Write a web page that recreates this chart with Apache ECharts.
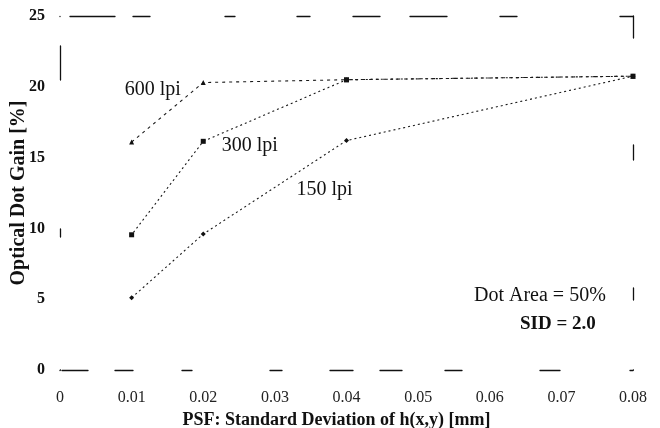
<!DOCTYPE html>
<html>
<head>
<meta charset="utf-8">
<script src="https://cdn.jsdelivr.net/npm/echarts@6/dist/echarts.min.js"></script>
<style>html,body{margin:0;padding:0;background:#fff}#c{width:660px;height:428px}</style>
</head>
<body>
<div id="c"></div>
<script>
// Data
const xValues = [0.01, 0.02, 0.04, 0.08];
const lpi600 = [16.1, 20.3, 20.5, 20.75];
const lpi300 = [9.55, 16.15, 20.5, 20.75];
const lpi150 = [5.1, 9.6, 16.2, 20.75];
const seriesNames = ['600 lpi', '300 lpi', '150 lpi'];
const xTicks = [0, 0.01, 0.02, 0.03, 0.04, 0.05, 0.06, 0.07, 0.08];
const yTicks = [0, 5, 10, 15, 20, 25];
const xTitle = 'PSF: Standard Deviation of h(x,y) [mm]';
const yTitle = 'Optical Dot Gain [%]';
const note1 = 'Dot Area = 50%';
const note2 = 'SID = 2.0';

const FONT = '"Liberation Serif", "Times New Roman", serif';
const labelStyle = {show: true, color: '#111', fontFamily: FONT, fontSize: 20};

function build(ys, labelIndex, labelCfg) {
  return xValues.map((x, i) => {
    const d = {value: [x, ys[i]]};
    if (i === labelIndex) d.label = Object.assign({}, labelStyle, labelCfg);
    return d;
  });
}

const chart = echarts.init(document.getElementById('c'), null, {renderer: 'canvas'});
const lineBase = {color: '#1a1a1a', width: 1.1, type: [2, 3]};

chart.setOption({
  animation: false,
  backgroundColor: '#fff',
  grid: {left: 60, right: 27, top: 16, bottom: 58, containLabel: false, outerBoundsMode: 'none'},
  xAxis: [{
    type: 'value', min: 0, max: 0.08, interval: 0.01,
    name: xTitle, nameLocation: 'middle', nameGap: 41, nameMoveOverlap: false,
    nameTextStyle: {fontFamily: FONT, fontSize: 18, fontWeight: 'bold', color: '#111', padding: [0, 20, 0, 0]},
    axisLine: {show: true, lineStyle: {color: '#111', width: 1.3,
      type: [0, 2, 26, 27, 18, 49, 10, 78, 12, 48, 23, 27, 22, 43, 17, 78, 20, 70, 3, 10]}},
    axisTick: {show: false},
    splitLine: {show: false},
    axisLabel: {margin: 20, fontFamily: FONT, fontSize: 16, color: '#222',
      formatter: v => { const t = xTicks.find(k => Math.abs(k - v) < 1e-9); return t === 0 ? '0' : t.toFixed(2); }}
  }, {
    type: 'value', position: 'top', min: 0, max: 0.08, interval: 0.01,
    axisLine: {show: true, onZero: false, lineStyle: {color: '#111', width: 1.3,
      type: [0, 10, 45, 18, 17, 75, 10, 62, 13, 43, 27, 30, 37, 53, 17, 103, 13, 20]}},
    axisTick: {show: false}, axisLabel: {show: false}, splitLine: {show: false}
  }],
  yAxis: [{
    type: 'value', min: 0, max: 25, interval: 5,
    name: yTitle, nameLocation: 'middle', nameGap: 31, nameMoveOverlap: false,
    nameTextStyle: {fontFamily: FONT, fontSize: 20, fontWeight: 'bold', color: '#111'},
    axisLine: {show: true, onZero: false, lineStyle: {color: '#111', width: 1.3,
      type: [0, 133, 8, 149, 34, 100]}},
    axisTick: {show: false}, splitLine: {show: false},
    axisLabel: {margin: 15, fontFamily: FONT, fontSize: 16, fontWeight: 'bold', color: '#111',
      padding: [6, 0, 0, 0],
      formatter: v => String(yTicks.find(k => k === v))}
  }, {
    type: 'value', position: 'right', min: 0, max: 25, interval: 5,
    axisLine: {show: true, onZero: false, lineStyle: {color: '#111', width: 1.3,
      type: [0, 70, 12, 128, 15, 107, 24, 50]}},
    axisTick: {show: false}, axisLabel: {show: false}, splitLine: {show: false}
  }],
  series: [{
    name: seriesNames[0], type: 'line', symbol: 'triangle', symbolSize: 5,
    itemStyle: {color: '#111'}, lineStyle: Object.assign({}, lineBase, {type: [3, 4]}),
    label: {show: false},
    data: build(lpi600, 1, {formatter: seriesNames[0], position: 'left', distance: 20, offset: [0, 7]})
  }, {
    name: seriesNames[1], type: 'line', symbol: 'rect', symbolSize: 5,
    itemStyle: {color: '#111'}, lineStyle: Object.assign({}, lineBase, {dashOffset: 2}),
    label: {show: false},
    data: build(lpi300, 1, {formatter: seriesNames[1], position: 'right', distance: 16, offset: [0, 4]})
  }, {
    name: seriesNames[2], type: 'line', symbol: 'diamond', symbolSize: 5,
    itemStyle: {color: '#111'}, lineStyle: lineBase,
    label: {show: false},
    data: build(lpi150, 2, {formatter: seriesNames[2], position: 'inside', offset: [-22, 49]})
  }],
  graphic: [{
    type: 'text', left: 474, top: 286,
    style: {text: note1, fontFamily: FONT, fontSize: 20, fill: '#111'}
  }, {
    type: 'text', left: 520, top: 315,
    style: {text: note2, fontFamily: FONT, fontSize: 19, fontWeight: 'bold', fill: '#111'}
  }]
});
</script>
</body>
</html>
